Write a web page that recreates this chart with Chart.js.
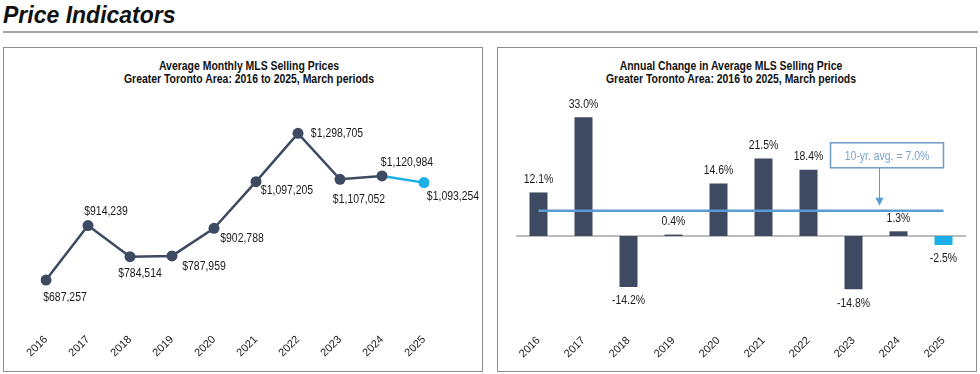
<!DOCTYPE html>
<html>
<head>
<meta charset="utf-8">
<script src="https://cdn.jsdelivr.net/npm/chart.js@4"></script>
<style>
body { margin:0; width:980px; height:374px; background:#fff; position:relative; overflow:hidden; font-family:'Liberation Sans', Arial, sans-serif; }
.pageTitle { position:absolute; left:3px; top:2px; font-size:23px; font-weight:bold; font-style:italic; color:#111; }
.rule { position:absolute; left:3px; top:31px; width:975px; height:2px; background:#a6a6a6; }
.panel { position:absolute; top:47px; width:478px; height:323px; border:1px solid #8c8c8c; }
.chartTitle { position:absolute; top:60px; font-weight:bold; font-size:12px; line-height:13.4px; text-align:center; color:#111; transform:scaleX(0.87); }
.wrap { position:absolute; top:48px; width:478px; height:322px; }
</style>
</head>
<body>
<div class="pageTitle">Price Indicators</div>
<div class="rule"></div>
<div class="panel" style="left:3px"></div>
<div class="panel" style="left:497px"></div>
<div class="chartTitle" style="left:4px; width:490px">Average Monthly MLS Selling Prices<br>Greater Toronto Area: 2016 to 2025, March periods</div>
<div class="chartTitle" style="left:498px; width:466px">Annual Change in Average MLS Selling Price<br>Greater Toronto Area: 2016 to 2025, March periods</div>
<div class="wrap" style="left:4px"><canvas id="priceLine" width="478" height="322"></canvas></div>
<div class="wrap" style="left:498px"><canvas id="changeBar" width="478" height="322"></canvas></div>
<script>
// 데이터
var years = ['2016', '2017', '2018', '2019', '2020', '2021', '2022', '2023', '2024', '2025'];
var avgPrice = [687257, 914239, 784514, 787959, 902788, 1097205, 1298705, 1107052, 1120984, 1093254];
var pctChange = [12.1, 33.0, -14.2, 0.4, 14.6, 21.5, 18.4, -14.8, 1.3, -2.5];
var tenYrAvg = 7.0;

// 라벨 위치 (포인트 기준 dx, dy)
var priceLabelOffsets = [[19, 18], [18, -14], [10, 17], [32, 11], [28, 10], [31, 9], [39, 0], [19, 20], [25, -13], [29, 14]];

var dark = '#3e4a61';
var cyan = '#1aafe6';
var fontFam = "'Liberation Sans', Arial, sans-serif";
var squeeze = 0.87; // 좁은 글꼴 흉내
var last = years.length - 1;

function fmtPrice(v) {
    return '$' + v.toLocaleString('en-US');
}

// 가로로 좁힌 텍스트
function narrowText(ctx, text, x, y) {
    ctx.save();
    ctx.translate(x, y);
    ctx.scale(squeeze, 1);
    ctx.fillText(text, 0, 0);
    ctx.restore();
}

// 라인차트 데이터 라벨
var priceLabels = {
    id: 'priceLabels',
    afterDatasetsDraw: function(chart) {
        var ctx = chart.ctx;
        var meta = chart.getDatasetMeta(0);
        ctx.save();
        ctx.font = '12px ' + fontFam;
        ctx.fillStyle = '#1a1a1a';
        ctx.textAlign = 'center';
        ctx.textBaseline = 'middle';
        for (var i = 0; i < meta.data.length; i++) {
            var pt = meta.data[i];
            narrowText(ctx, fmtPrice(avgPrice[i]), pt.x + priceLabelOffsets[i][0], pt.y + priceLabelOffsets[i][1]);
        }
        ctx.restore();
    }
};

// 막대 라벨 + 0선 + 10년 평균선
var changeExtras = {
    id: 'changeExtras',
    beforeDatasetsDraw: function(chart) {
        var ctx = chart.ctx;
        var area = chart.chartArea;
        var y0 = chart.scales.y.getPixelForValue(0);
        ctx.save();
        ctx.strokeStyle = '#a6a6a6';
        ctx.lineWidth = 1.5;
        ctx.beginPath();
        ctx.moveTo(area.left, y0);
        ctx.lineTo(area.right, y0);
        ctx.stroke();
        ctx.restore();
    },
    afterDatasetsDraw: function(chart) {
        var ctx = chart.ctx;
        var xs = chart.scales.x;
        var ys = chart.scales.y;
        var meta = chart.getDatasetMeta(0);
        ctx.save();

        // 평균선
        var yAvg = ys.getPixelForValue(tenYrAvg);
        var xEnd = xs.getPixelForValue(last);
        ctx.strokeStyle = '#5b9bd5';
        ctx.lineWidth = 2.5;
        ctx.beginPath();
        ctx.moveTo(xs.getPixelForValue(0), yAvg);
        ctx.lineTo(xEnd, yAvg);
        ctx.stroke();

        // 평균 박스
        var boxW = 113, boxH = 25;
        var boxTop = yAvg - 68;
        ctx.strokeStyle = '#6f9ac6';
        ctx.lineWidth = 1.5;
        ctx.strokeRect(xEnd - boxW, boxTop, boxW, boxH);
        ctx.font = '12px ' + fontFam;
        ctx.fillStyle = '#7ba4cf';
        ctx.textAlign = 'center';
        ctx.textBaseline = 'middle';
        narrowText(ctx, '10-yr. avg. = ' + tenYrAvg.toFixed(1) + '%', xEnd - boxW / 2, boxTop + boxH / 2 + 1);

        // 화살표
        var ax = xEnd - 64;
        ctx.strokeStyle = '#5b9bd5';
        ctx.fillStyle = '#5b9bd5';
        ctx.lineWidth = 1;
        ctx.beginPath();
        ctx.moveTo(ax, boxTop + boxH);
        ctx.lineTo(ax, yAvg - 12);
        ctx.stroke();
        ctx.beginPath();
        ctx.moveTo(ax - 4, yAvg - 13);
        ctx.lineTo(ax + 4, yAvg - 13);
        ctx.lineTo(ax, yAvg - 5);
        ctx.closePath();
        ctx.fill();

        // 막대 라벨
        ctx.fillStyle = '#1a1a1a';
        for (var i = 0; i < meta.data.length; i++) {
            var bar = meta.data[i];
            var v = pctChange[i];
            var ly = v >= 0 ? bar.y - 13 : bar.y + 14;
            narrowText(ctx, v.toFixed(1) + '%', bar.x, ly);
        }
        ctx.restore();
    }
};

var tickFont = { family: fontFam, size: 11 };

new Chart(document.getElementById('priceLine').getContext('2d'), {
    type: 'line',
    data: {
        labels: years,
        datasets: [{
            data: avgPrice,
            borderColor: dark,
            borderWidth: 2.5,
            segment: {
                borderColor: function(c) { return c.p1DataIndex === last ? cyan : dark; }
            },
            pointRadius: 5.5,
            pointBorderWidth: 0,
            pointBackgroundColor: years.map(function(y, i) { return i === last ? cyan : dark; }),
            tension: 0
        }]
    },
    options: {
        responsive: false,
        animation: false,
        layout: { padding: { left: 42, right: 58, top: 49, bottom: 0 } },
        plugins: { legend: { display: false }, tooltip: { enabled: false } },
        scales: {
            x: {
                grid: { display: false },
                border: { display: false },
                ticks: { color: '#1a1a1a', font: tickFont, minRotation: 45, maxRotation: 45, autoSkip: false, padding: 0 },
                afterFit: function(s) { s.height = 45; }
            },
            y: { display: false, min: 500000, max: 1450000 }
        }
    },
    plugins: [priceLabels]
});

new Chart(document.getElementById('changeBar').getContext('2d'), {
    type: 'bar',
    data: {
        labels: years,
        datasets: [{
            data: pctChange,
            backgroundColor: years.map(function(y, i) { return i === last ? cyan : dark; }),
            barPercentage: 0.4,
            categoryPercentage: 1.0
        }]
    },
    options: {
        responsive: false,
        animation: false,
        layout: { padding: { left: 18, right: 10, top: 44, bottom: 0 } },
        plugins: { legend: { display: false }, tooltip: { enabled: false } },
        scales: {
            x: {
                grid: { display: false },
                border: { display: false },
                ticks: { color: '#1a1a1a', font: tickFont, minRotation: 45, maxRotation: 45, autoSkip: false, padding: 0 },
                afterFit: function(s) { s.height = 44; }
            },
            y: { display: false, min: -25, max: 40 }
        }
    },
    plugins: [changeExtras]
});
</script>
</body>
</html>
